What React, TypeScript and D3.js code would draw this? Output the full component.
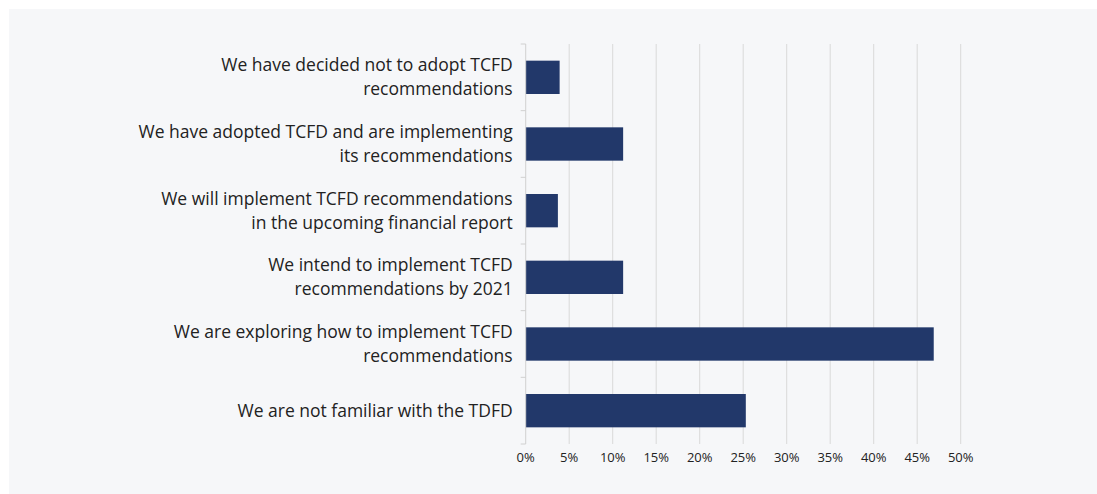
import { useEffect } from 'react';
import * as d3 from 'd3';

const categories = [
  ['We have decided not to adopt TCFD', 'recommendations'],
  ['We have adopted TCFD and are implementing', 'its recommendations'],
  ['We will implement TCFD recommendations', 'in the upcoming financial report'],
  ['We intend to implement TCFD', 'recommendations by 2021'],
  ['We are exploring how to implement TCFD', 'recommendations'],
  ['We are not familiar with the TDFD'],
];
const values = [3.9, 11.2, 3.7, 11.2, 46.9, 25.3];
const ticks = [0, 5, 10, 15, 20, 25, 30, 35, 40, 45, 50];

const width = 1097;
const height = 494;
const left = 525.7;
const right = 960.7;
const top = 44;
const bottom = 444;
const panel = '#f6f7f9';
const font = '"Open Sans", "Noto Sans", sans-serif';

export default function App() {
  // panel colour runs off the right and bottom edges of the page
  useEffect(() => {
    document.documentElement.style.background = panel;
    document.body.style.background = panel;
  }, []);

  const x = d3.scaleLinear().domain([0, 50]).range([left, right]);
  const y = d3
    .scaleBand<number>()
    .domain(d3.range(categories.length))
    .range([top, bottom])
    .paddingInner(0.5)
    .paddingOuter(0.25);
  const step = y.step();

  return (
    <svg width={width} height={height} style={{ position: 'absolute', left: 0, top: 0, display: 'block' }}>
      <rect x={0} y={0} width={width} height={height} fill={panel} />
      <rect x={0} y={0} width={width} height={9} fill="#fff" />
      <rect x={0} y={0} width={9} height={height} fill="#fff" />

      {/* gridlines */}
      {ticks.slice(1).map(t => (
        <line key={t} x1={x(t)} x2={x(t)} y1={top} y2={bottom} stroke="#d9d9d9" strokeWidth={1} />
      ))}

      {/* bars */}
      {values.map((v, i) => (
        <rect key={i} x={x(0)} y={y(i)} width={x(v) - x(0)} height={y.bandwidth()} fill="#22386a" />
      ))}

      {/* category axis */}
      <line x1={x(0)} x2={x(0)} y1={top} y2={bottom} stroke="#d0d0d0" />
      {d3.range(categories.length + 1).map(i => (
        <line key={i} x1={x(0) - 5} x2={x(0)} y1={top + i * step} y2={top + i * step} stroke="#d0d0d0" />
      ))}
      {categories.map((lines, i) => {
        const cy = (y(i) ?? 0) + y.bandwidth() / 2;
        const lh = 24;
        const y0 = cy - ((lines.length - 1) * lh) / 2;
        return (
          <text key={i} textAnchor="end" fontFamily={font} fontSize={17.5} fill="#222">
            {lines.map((l, j) => (
              <tspan key={j} x={x(0) - 13} y={y0 + j * lh} dy="0.35em">
                {l}
              </tspan>
            ))}
          </text>
        );
      })}

      {/* value axis labels */}
      {ticks.map(t => (
        <text key={t} x={x(t)} y={bottom + 13} dy="0.35em" textAnchor="middle" fontFamily={font} fontSize={13} fill="#222">
          {t}%
        </text>
      ))}
    </svg>
  );
}
